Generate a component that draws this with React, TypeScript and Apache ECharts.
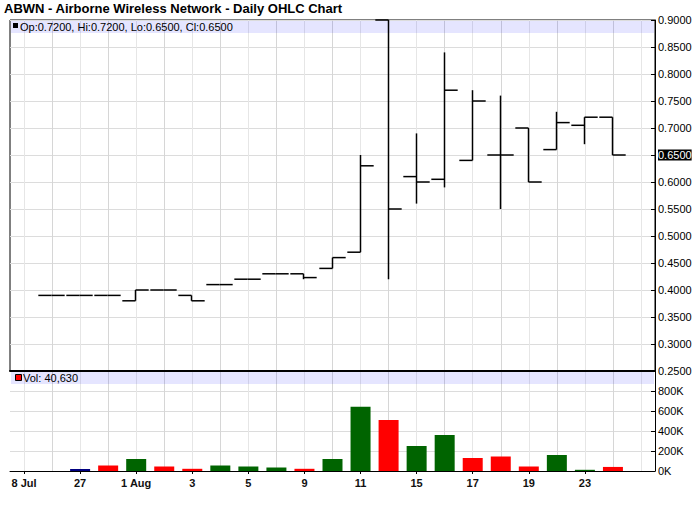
import React, { useEffect, useRef } from "react";
import * as echarts from "echarts";

const dates = ["8 Jul", "26 Jul", "27 Jul", "28 Jul", "1 Aug", "2 Aug", "3 Aug", "4 Aug", "5 Aug", "8 Aug", "9 Aug", "10 Aug", "11 Aug", "12 Aug", "15 Aug", "16 Aug", "17 Aug", "18 Aug", "19 Aug", "22 Aug", "23 Aug", "24 Aug", "25 Aug"];
const xLabels = ["8 Jul", "", "27", "", "1 Aug", "", "3", "", "5", "", "9", "", "11", "", "15", "", "17", "", "19", "", "23", "", ""];
const opens = [null, 0.39, 0.39, 0.39, 0.38, 0.40, 0.39, 0.41, 0.42, 0.43, 0.43, 0.44, 0.47, 0.90, 0.61, 0.605, 0.64, 0.65, 0.70, 0.66, 0.705, 0.72, null];
const highs = [null, 0.39, 0.39, 0.39, 0.40, 0.40, 0.39, 0.41, 0.42, 0.43, 0.43, 0.46, 0.65, 0.90, 0.69, 0.84, 0.77, 0.76, 0.70, 0.73, 0.72, 0.72, null];
const lows = [null, 0.39, 0.39, 0.39, 0.38, 0.40, 0.38, 0.41, 0.42, 0.43, 0.42, 0.44, 0.47, 0.42, 0.56, 0.59, 0.64, 0.55, 0.60, 0.66, 0.67, 0.65, null];
const closes = [null, 0.39, 0.39, 0.39, 0.40, 0.40, 0.38, 0.41, 0.42, 0.43, 0.423, 0.46, 0.63, 0.55, 0.60, 0.77, 0.75, 0.65, 0.60, 0.71, 0.72, 0.65, null];
const volumes = [0, 0, 20000, 55000, 120000, 45000, 22000, 55000, 45000, 35000, 22000, 120000, 643000, 510000, 250000, 360000, 130000, 145000, 45000, 160000, 12000, 40630, 0];
const volDirs = ["", "", "unch", "down", "up", "down", "down", "up", "up", "up", "down", "up", "up", "down", "up", "up", "down", "down", "down", "up", "up", "down", ""];

const dirColors: Record<string, string> = { up: "#006400", down: "#ff0000", unch: "#000080", "": "#000080" };
const FONT = "'Liberation Sans', Arial, sans-serif";

export default function App() {
  const ref = useRef<HTMLDivElement>(null);
  useEffect(() => {
    if (!ref.current) return;
    document.body.style.margin = "0";
    const chart = echarts.init(ref.current, null, { renderer: "svg" });
    let last = -1;
    for (let i = 0; i < closes.length; i++) if (closes[i] != null) last = i;
    const lastClose = closes[last] as number;
    const lastVol = volumes[last];
    const f4 = (v: number) => v.toFixed(4);
    const legendText = `Op:${f4(opens[last] as number)}, Hi:${f4(highs[last] as number)}, Lo:${f4(lows[last] as number)}, Cl:${f4(lastClose)}`;
    const volText = `Vol: ${lastVol.toLocaleString("en-US")}`;

    const ohlcData = dates
      .map((d, i) => (opens[i] == null ? null : [i, opens[i], highs[i], lows[i], closes[i]]))
      .filter((x) => x != null);

    const volData = volumes.map((v, i) => ({ value: v, itemStyle: { color: dirColors[volDirs[i]] } }));

    const splitX = { show: true, alignWithLabel: true, interval: 0, lineStyle: { color: ["#e6e6e6", "#d6d6d6"], width: 1 } };

    const option: any = {
      animation: false,
      backgroundColor: "#ffffff",
      textStyle: { fontFamily: FONT },
      grid: [
        { left: 10, right: 45, top: 20, height: 351, show: true, borderColor: "#000", borderWidth: 1, backgroundColor: "#fff" },
        { left: 10, right: 45, top: 371, height: 100, show: false },
      ],
      xAxis: [
        {
          type: "category", gridIndex: 0, data: dates, boundaryGap: true,
          axisLine: { show: true, lineStyle: { color: "#000", width: 2 } },
          axisTick: { show: false }, axisLabel: { show: false },
          splitLine: splitX,
        },
        {
          type: "category", gridIndex: 1, data: dates, boundaryGap: true,
          axisLine: { show: true, lineStyle: { color: "#000", width: 1 } },
          axisTick: { show: true, alignWithLabel: true, length: 3, lineStyle: { color: "#000" }, interval: (i: number) => xLabels[i] !== "" },
          axisLabel: {
            interval: 0, margin: 6, fontSize: 11, fontWeight: "bold", color: "#111", fontFamily: FONT,
            formatter: (_v: string, i: number) => xLabels[i],
          },
          splitLine: splitX,
        },
      ],
      yAxis: [
        {
          type: "value", gridIndex: 0, position: "right", min: 0.25, max: 0.9, interval: 0.05,
          axisLine: { show: true, lineStyle: { color: "#000" } },
          axisTick: { show: true, inside: true, length: 4, lineStyle: { color: "#000" } },
          axisLabel: {
            margin: 3, fontSize: 11, color: "#000", fontFamily: FONT,
            formatter: (v: number) => (Math.abs(v - lastClose) < 1e-9 ? `{hl|${v.toFixed(4)}}` : v.toFixed(4)),
            rich: { hl: { backgroundColor: "#000", color: "#fff", fontSize: 11, fontFamily: FONT, padding: [0, 0, 0, 0] } },
          },
          splitLine: { show: true, lineStyle: { color: "#dcdcdc" } },
        },
        {
          type: "value", gridIndex: 1, position: "right", min: 0, max: 1000000, interval: 200000,
          axisLine: { show: true, lineStyle: { color: "#000" } },
          axisTick: { show: true, inside: true, length: 4, lineStyle: { color: "#000" } },
          axisLabel: {
            margin: 3, fontSize: 11, color: "#000", fontFamily: FONT,
            formatter: (v: number) => (v >= 1000000 ? "" : `${Math.round(v / 1000)}K`),
          },
          splitLine: { show: true, lineStyle: { color: "#dcdcdc" } },
        },
      ],
      graphic: [
        { type: "text", left: 4, top: 2, style: { text: "ABWN - Airborne Wireless Network - Daily OHLC Chart", font: `bold 13px ${FONT}`, fill: "#000" } },
        { type: "rect", shape: { x: 11, y: 21, width: 643, height: 12 }, style: { fill: "rgba(0,0,255,0.1)" }, z: 1 },
        { type: "rect", shape: { x: 13, y: 23, width: 5, height: 5 }, style: { fill: "#000" }, z: 10 },
        { type: "text", x: 20, y: 26.5, style: { text: legendText, font: `11px ${FONT}`, fill: "#000", verticalAlign: "middle" }, z: 10 },
        { type: "rect", shape: { x: 11, y: 372, width: 643, height: 12 }, style: { fill: "rgba(0,0,255,0.1)" }, z: 1 },
        { type: "rect", shape: { x: 15.5, y: 374.5, width: 6, height: 6 }, style: { fill: "#ff0000", stroke: "#000", lineWidth: 1 }, z: 10 },
        { type: "text", x: 23, y: 378, style: { text: volText, font: `11px ${FONT}`, fill: "#000", verticalAlign: "middle" }, z: 10 },
      ],
      series: [
        {
          type: "custom", xAxisIndex: 0, yAxisIndex: 0, data: ohlcData,
          encode: { x: 0, y: [1, 2, 3, 4] },
          renderItem: (_p: any, api: any) => {
            const i = api.value(0);
            const po = api.coord([i, api.value(1)]);
            const ph = api.coord([i, api.value(2)]);
            const pl = api.coord([i, api.value(3)]);
            const pc = api.coord([i, api.value(4)]);
            const half = api.size([1, 0])[0] * 0.47;
            const x = Math.round(po[0]) - 0.5;
            const st = { stroke: "#000", lineWidth: 1.5 };
            return {
              type: "group",
              children: [
                { type: "line", shape: { x1: x, y1: ph[1], x2: x, y2: pl[1] }, style: st },
                { type: "line", shape: { x1: x - half, y1: po[1], x2: x, y2: po[1] }, style: st },
                { type: "line", shape: { x1: x, y1: pc[1], x2: x + half, y2: pc[1] }, style: st },
              ],
            };
          },
          z: 5,
        },
        { type: "bar", xAxisIndex: 1, yAxisIndex: 1, data: volData, barWidth: 20, z: 5 },
      ],
    };
    chart.setOption(option);
    return () => chart.dispose();
  }, []);
  return <div ref={ref} style={{ width: 700, height: 512 }} />;
}
